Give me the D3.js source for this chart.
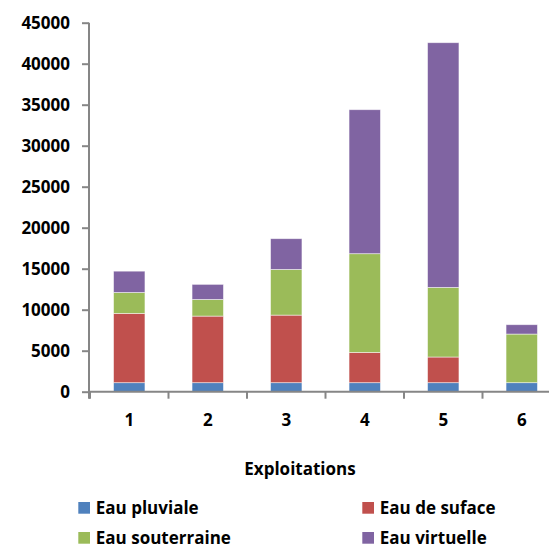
<!DOCTYPE html>
<html>
<head>
<meta charset="utf-8">
<script src="https://cdn.jsdelivr.net/npm/d3@7"></script>
<style>
  html, body { margin: 0; padding: 0; background: #fff; }
  svg { display: block; }
  text { font-family: "Open Sans", sans-serif; font-weight: bold; fill: #000; }
</style>
</head>
<body>
<svg id="chart" width="549" height="548"></svg>
<script>
const categories = ["1", "2", "3", "4", "5", "6"];
const seriesNames = ["Eau pluviale", "Eau de suface", "Eau souterraine", "Eau virtuelle"];
const pluviale = [1100, 1100, 1100, 1100, 1100, 1100];
const surface = [8450, 8120, 8240, 3690, 3130, 0];
const souterraine = [2550, 2030, 5570, 12040, 8490, 5930];
const virtuelle = [2600, 1840, 3750, 17560, 29840, 1140];
const yTicks = [0, 5000, 10000, 15000, 20000, 25000, 30000, 35000, 40000, 45000];
const colors = ["#4F81BD", "#C0504D", "#9BBB59", "#8064A2"];
const xTitle = "Exploitations";

const rows = categories.map((c, i) => ({
  cat: c,
  [seriesNames[0]]: pluviale[i],
  [seriesNames[1]]: surface[i],
  [seriesNames[2]]: souterraine[i],
  [seriesNames[3]]: virtuelle[i]
}));

const svg = d3.select("#chart");
const x0 = 90, bandW = 78.5;
const x = d3.scaleBand().domain(categories).range([x0, x0 + bandW * categories.length]).paddingInner(0.6).paddingOuter(0.3);
const y = d3.scaleLinear().domain([0, 45000]).range([391.7, 22.7]);

const stack = d3.stack().keys(seriesNames)(rows);
const color = d3.scaleOrdinal().domain(seriesNames).range(colors);

svg.append("g").selectAll("g").data(stack).join("g")
  .attr("fill", d => color(d.key))
  .selectAll("rect").data(d => d).join("rect")
  .attr("x", d => x(d.data.cat))
  .attr("width", x.bandwidth())
  .attr("y", d => y(d[1]))
  .attr("height", d => Math.max(0, y(d[0]) - y(d[1])))
  .attr("stroke", "#ffffff")
  .attr("stroke-opacity", 0.6)
  .attr("stroke-width", 0.8);

// Y axis
const yAxis = svg.append("g").attr("transform", `translate(${x0 - 1},0)`)
  .call(d3.axisLeft(y).tickValues(yTicks).tickSize(7).tickPadding(12).tickFormat(d3.format("d")));
yAxis.select(".domain").attr("stroke", "#868686").attr("stroke-width", 2).attr("d", `M0,${y(45000)}V${y(0) + 7}`);
yAxis.selectAll(".tick line").attr("stroke", "#868686").attr("stroke-width", 2);
yAxis.selectAll(".tick text").style("font-size", "17px").style("font-family", "'Open Sans', sans-serif").style("font-weight", "bold").attr("fill", "#000");

// X axis
const boundaries = categories.map((c, i) => x0 + i * bandW);
const xg = svg.append("g");
xg.append("line").attr("x1", x0 - 2).attr("x2", x0 + bandW * categories.length)
  .attr("y1", y(0)).attr("y2", y(0)).attr("stroke", "#868686").attr("stroke-width", 2);
xg.selectAll("line.tk").data(boundaries).join("line").attr("class", "tk")
  .attr("x1", d => d).attr("x2", d => d).attr("y1", y(0)).attr("y2", y(0) + 7)
  .attr("stroke", "#868686").attr("stroke-width", 2);
xg.selectAll("text").data(categories).join("text")
  .attr("x", d => x(d) + x.bandwidth() / 2).attr("y", 426)
  .attr("text-anchor", "middle").style("font-size", "17px").text(d => d);

// X title
svg.append("text").attr("x", 300).attr("y", 475).attr("text-anchor", "middle")
  .style("font-size", "17px").text(xTitle);

// Legend
const legendPos = [[78.3, 502], [362.3, 502], [78.3, 532], [362.3, 532]];
const lg = svg.append("g").selectAll("g").data(seriesNames).join("g")
  .attr("transform", (d, i) => `translate(${legendPos[i][0]},${legendPos[i][1]})`);
lg.append("rect").attr("width", 11.7).attr("height", 11.7).attr("fill", d => color(d));
lg.append("text").attr("x", 17.5).attr("y", 12).style("font-size", "17px").text(d => d);
</script>
</body>
</html>
